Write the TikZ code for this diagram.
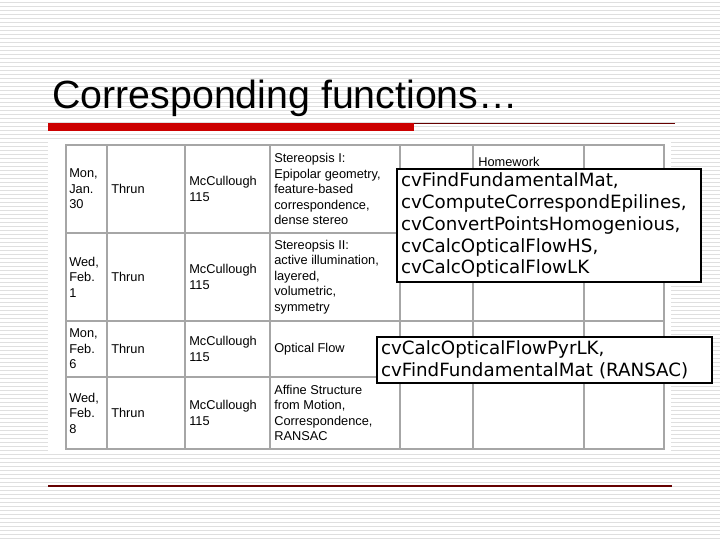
\documentclass[tikz,border=0pt]{standalone}
\usepackage{fontspec}
\setmainfont{Liberation Sans}
\newfontfamily\boxfont{DejaVu Sans}
\begin{document}
\begin{tikzpicture}[x=0.75pt,y=-0.75pt,
  cell/.style={anchor=west,align=left,font=\fontsize{9.6}{11.6}\selectfont,inner sep=0pt},
  grid/.style={draw=gray!70,line width=1pt},
  callout/.style={draw=black,line width=1.5pt,fill=white,anchor=north west,align=left,inner xsep=3pt,inner ysep=3pt,font=\boxfont\fontsize{13.7}{16.3}\selectfont}]
\useasboundingbox (0,0) rectangle (720,540);
\fill[white] (0,0) rectangle (720,540);
\foreach \i in {0,...,134} {\draw[gray!25,line width=0.75pt] (0,{\i*4+2}) -- (720,{\i*4+2});}
\node[anchor=base west,inner sep=0pt,font=\fontsize{29.5}{34}\selectfont] (title) at (52,108) {Corresponding functions…};
\fill[red!80!black] (48,123) rectangle (414,131);
\draw[red!40!black,line width=0.8pt] (414,123.5) -- (675,123.5);
\draw[red!40!black,line width=1pt] (48,486) -- (672,486);
\fill[white] (48,142) rectangle (671,451);
% grid
\draw[grid] (66,145) rectangle (664,449);
\foreach \x in {107,185,270,400,473,584} {\draw[grid] (\x,145) -- (\x,449);}
\foreach \y in {233,321,377} {\draw[grid] (66,\y) -- (664,\y);}
% cells
\node[cell] (d1) at (69,189) {Mon,\\Jan.\\30};
\node[cell] (t1) at (111,189) {Thrun};
\node[cell] (r1) at (189,189) {McCullough\\115};
\node[cell] (s1) at (274,189) {Stereopsis I:\\Epipolar geometry,\\feature-based\\correspondence,\\dense stereo};
\node[cell,anchor=north west] (h1) at (478,157) {Homework};
\node[cell] (d2) at (69,277) {Wed,\\Feb.\\1};
\node[cell] (t2) at (111,277) {Thrun};
\node[cell] (r2) at (189,277) {McCullough\\115};
\node[cell] (s2) at (274,277) {Stereopsis II:\\active illumination,\\layered,\\volumetric,\\symmetry};
\node[cell] (d3) at (69,349) {Mon,\\Feb.\\6};
\node[cell] (t3) at (111,349) {Thrun};
\node[cell] (r3) at (189,349) {McCullough\\115};
\node[cell] (s3) at (274,349) {Optical Flow};
\node[cell] (d4) at (69,413) {Wed,\\Feb.\\8};
\node[cell] (t4) at (111,413) {Thrun};
\node[cell] (r4) at (189,413) {McCullough\\115};
\node[cell] (s4) at (274,413) {Affine Structure\\from Motion,\\Correspondence,\\RANSAC};
% callouts
\node[callout,text width=222pt] (b1) at (396,168) {cvFindFundamentalMat,\\cvComputeCorrespondEpilines,\\cvConvertPointsHomogenious,\\cvCalcOpticalFlowHS,\\cvCalcOpticalFlowLK};
\node[callout,text width=245pt] (b2) at (376,336) {cvCalcOpticalFlowPyrLK,\\cvFindFundamentalMat (RANSAC)};
\end{tikzpicture}
\end{document}
